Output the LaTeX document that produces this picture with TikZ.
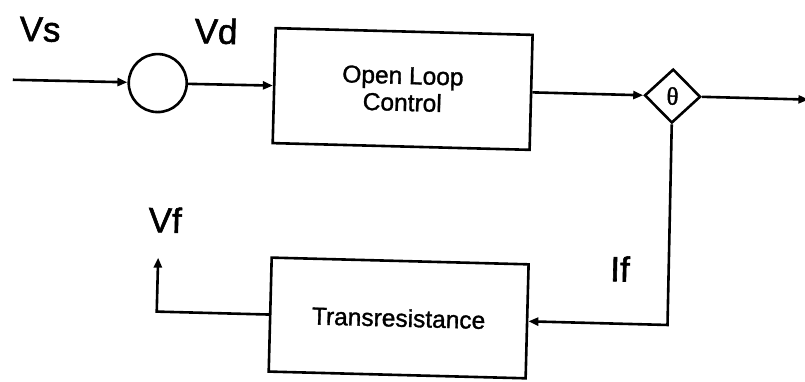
\documentclass[tikz,border=0pt]{standalone}
\usepackage{fontspec}
\setmainfont{Liberation Sans}
\usetikzlibrary{arrows.meta,shapes.geometric}
% slightly heavier faces for the labels
\font\siglabelfont="Liberation Sans:embolden=1.6" at 35pt
\font\blocklabelfont="Liberation Sans:embolden=1.3" at 24.5pt
\font\thetalabelfont="Liberation Serif:embolden=1.5" at 25pt
\newcommand\blocktextstyle{\blocklabelfont\baselineskip=27pt\relax}

\begin{document}
\begin{tikzpicture}[x=1pt,y=-1pt,
  line width=2.6pt,
  wire/.style={-{Triangle[length=10pt,width=8pt]}},
  block/.style={draw, rectangle, minimum width=257pt, minimum height=115pt,
    inner sep=0pt, align=center, font=\blocktextstyle},
  sumjunction/.style={draw, circle, minimum size=58pt, inner sep=0pt},
  pickoff/.style={draw, diamond, aspect=1, minimum width=56pt, minimum height=54pt,
    inner sep=0pt, font=\thetalabelfont},
  sig/.style={inner sep=0pt, font=\siglabelfont}]
\useasboundingbox (0,0) rectangle (805,381);
\begin{scope}[rotate around={-1.5:(402,190)}, transform shape]
  % forward path
  \coordinate (in) at (10,90);
  \node[sumjunction] (sum) at (155,89.5) {};
  \node[block] (olc) at (400,89) {Open Loop\\Control};
  \node[pickoff] (theta) at (670,89) {θ};
  \coordinate (out) at (806,89);
  % feedback path
  \node[block, minimum height=114pt] (tr) at (402,318) {Transresistance};
  \coordinate (fbcorner) at (671,318);
  \coordinate (vfcorner) at (160,318);
  \coordinate (vftip) at (160,264);
  % signal labels
  \node[sig] (vs) at (36,39) {Vs};
  \node[sig] (vd) at (212,36) {Vd};
  \node[sig] (vf) at (166,226) {Vf};
  \node[sig] (if) at (622,263) {If};
  % connectors
  \draw[wire] (in) -- (sum.west);
  \draw[wire] (sum.east) -- (olc.west);
  \draw[wire] (olc.east) -- (theta.west);
  \draw[wire] (theta.east) -- (out);
  \draw[wire] (theta.south) -- (fbcorner) -- (tr.east);
  \draw[wire] (tr.west) -- (vfcorner) -- (vftip);
\end{scope}
\end{tikzpicture}
\end{document}
